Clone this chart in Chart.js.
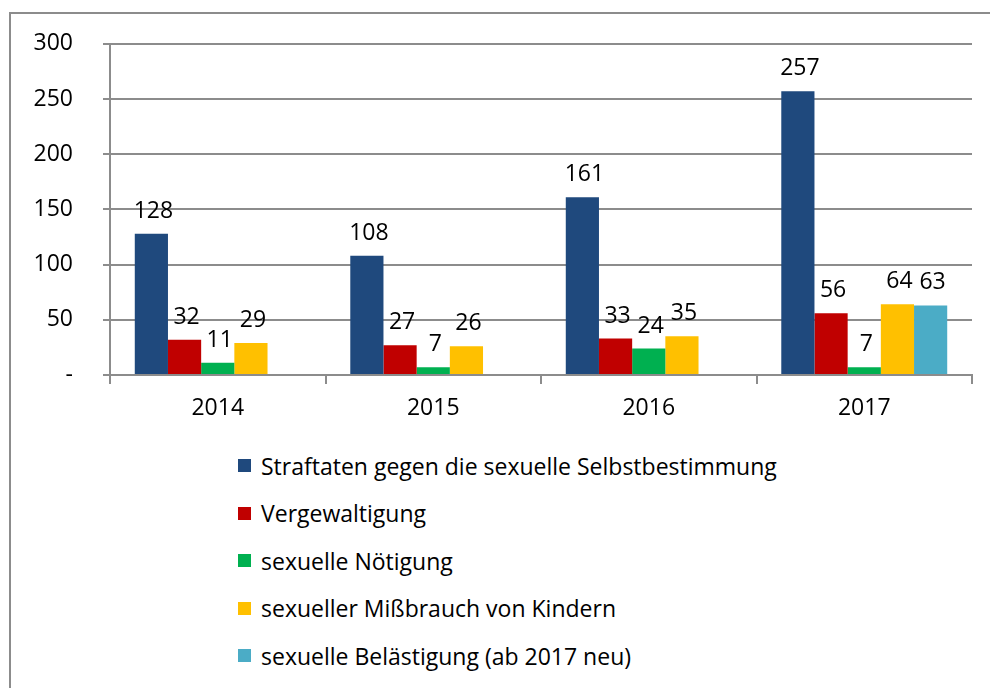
<!DOCTYPE html>
<html>
<head>
<meta charset="utf-8">
<script src="https://cdn.jsdelivr.net/npm/chart.js@4.4.1/dist/chart.umd.min.js"></script>
<style>
  body { margin: 0; width: 990px; height: 688px; overflow: hidden; background: #fff; font-family: "Open Sans", Lato, sans-serif; }
  #frame { position: absolute; left: 9px; top: 12px; width: 1200px; height: 900px; border-left: 2px solid #8c8c8c; border-top: 2px solid #8c8c8c; }
  #wrap { position: absolute; left: 0; top: 0; width: 990px; height: 440px; }
  #legend { position: absolute; left: 238px; top: 442px; margin: 0; padding: 0; list-style: none; }
  #legend li { height: 47.5px; display: flex; align-items: center; font-size: 23px; color: #000; }
  #legend li span { display: inline-block; width: 13px; height: 13px; margin-right: 10px; }
</style>
</head>
<body>
<div id="frame"></div>
<div id="wrap"><canvas id="chart"></canvas></div>
<ul id="legend"></ul>
<script>
// DATA
const years = ['2014', '2015', '2016', '2017'];
const selbstbestimmung = [128, 108, 161, 257];
const vergewaltigung = [32, 27, 33, 56];
const noetigung = [11, 7, 24, 7];
const missbrauch = [29, 26, 35, 64];
const belaestigung = [null, null, null, 63];
const yTicks = [0, 50, 100, 150, 200, 250, 300];

const seriesNames = [
  'Straftaten gegen die sexuelle Selbstbestimmung',
  'Vergewaltigung',
  'sexuelle Nötigung',
  'sexueller Mißbrauch von Kindern',
  'sexuelle Belästigung (ab 2017 neu)'
];
const seriesColors = ['#1f497d', '#c00000', '#00b050', '#ffc000', '#4bacc6'];
const seriesData = [selbstbestimmung, vergewaltigung, noetigung, missbrauch, belaestigung];

const FONT = '"Open Sans", Lato, sans-serif';

// value labels above bars
const valueLabels = {
  id: 'valueLabels',
  afterDatasetsDraw(chart) {
    const ctx = chart.ctx;
    ctx.save();
    ctx.font = '23px ' + FONT;
    ctx.fillStyle = '#000';
    ctx.textAlign = 'center';
    ctx.textBaseline = 'bottom';
    chart.data.datasets.forEach((ds, i) => {
      chart.getDatasetMeta(i).data.forEach((bar, j) => {
        const v = ds.data[j];
        if (v == null) return;
        ctx.fillText(String(v), bar.x + 2, bar.y - 11);
      });
    });
    ctx.restore();
  }
};

const chart = new Chart(document.getElementById('chart'), {
  type: 'bar',
  data: {
    labels: years,
    datasets: seriesData.map((d, i) => ({
      label: seriesNames[i],
      data: d,
      backgroundColor: seriesColors[i],
      barPercentage: 1,
      categoryPercentage: 0.77
    }))
  },
  options: {
    responsive: true,
    maintainAspectRatio: false,
    animation: false,
    layout: { padding: { top: 42, right: 18, left: 0, bottom: 0 } },
    plugins: { legend: { display: false }, tooltip: { enabled: false } },
    scales: {
      x: {
        afterFit: s => { s.height = 65; },
        grid: { drawOnChartArea: false, drawTicks: true, tickLength: 9, color: '#8c8c8c', lineWidth: 2 },
        border: { color: '#8c8c8c', width: 2 },
        ticks: { color: '#000', font: { size: 23, family: FONT }, padding: 11 }
      },
      y: {
        min: 0,
        max: 300,
        afterFit: s => { s.width = 110; },
        afterBuildTicks: s => { s.ticks = yTicks.map(v => ({ value: v })); },
        grid: { color: '#8c8c8c', lineWidth: 2, tickLength: 7 },
        border: { color: '#8c8c8c', width: 2 },
        ticks: {
          color: '#000',
          font: { size: 23, family: FONT },
          padding: 30,
          callback: v => v === 0 ? '-' : v
        }
      }
    }
  },
  plugins: [valueLabels]
});

// legend list from datasets
const legend = document.getElementById('legend');
chart.data.datasets.forEach(ds => {
  const li = document.createElement('li');
  const sw = document.createElement('span');
  sw.style.background = ds.backgroundColor;
  li.appendChild(sw);
  li.appendChild(document.createTextNode(ds.label));
  legend.appendChild(li);
});
</script>
</body>
</html>
